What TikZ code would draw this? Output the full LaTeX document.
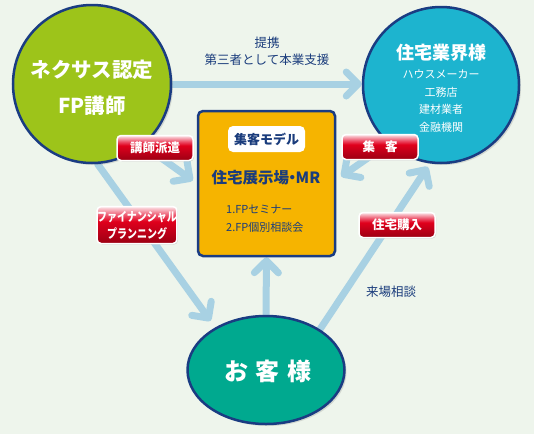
\documentclass[tikz,border=0pt]{standalone}
\usepackage{fontspec}
\usepackage{graphicx}
\setmainfont{Noto Sans CJK JP}
\usetikzlibrary{arrows.meta,shapes.geometric,shadows}
\definecolor{bgc}{HTML}{EEF5EC}
\definecolor{navy}{HTML}{1A3C82}
\definecolor{txtnavy}{HTML}{1A3C7C}
\definecolor{greenc}{HTML}{9DC41A}
\definecolor{bluec}{HTML}{1DB4CF}
\definecolor{orangec}{HTML}{F6B400}
\definecolor{tealc}{HTML}{00A98F}
\definecolor{arrowc}{HTML}{A8D1E3}
\definecolor{redtop}{HTML}{FCE6EA}
\definecolor{redpink}{HTML}{EC5068}
\definecolor{redmid}{HTML}{E0001C}
\definecolor{reddark}{HTML}{B80018}
\definecolor{redbot}{HTML}{9C0012}
\pgfdeclareverticalshading{redgloss}{100bp}{color(0bp)=(redbot); color(25bp)=(redbot); color(38bp)=(reddark); color(55bp)=(redmid); color(63bp)=(redpink); color(75bp)=(redtop); color(100bp)=(redtop)}
\pgfdeclarelayer{bglayer}
\pgfdeclarelayer{connlayer}
\pgfsetlayers{bglayer,connlayer,main}
\newcommand{\fsz}[1]{\fontsize{#1}{#1}\selectfont}
\begin{document}
\begin{tikzpicture}[x=1pt,y=-1pt,
  conn/.style={draw=arrowc, line width=7pt, line cap=round,
    -{Straight Barb[length=12pt,width=24pt,round]}},
  bigshape/.style={draw=navy, line width=2.5pt,
    drop shadow={opacity=0.25, shadow xshift=2pt, shadow yshift=-2pt}},
  redlbl/.style={rounded corners=4pt, draw=white, line width=1.5pt,
    shading=redgloss, shading angle=0,
    text=white, font=\bfseries\fsz{12.5}, minimum width=76pt, minimum height=25pt,
    inner sep=0pt, align=center,
    drop shadow={opacity=0.3, shadow xshift=1pt, shadow yshift=-1pt}},
  wtxt/.style={text=white, inner sep=0pt},
  ntxt/.style={text=txtnavy, inner sep=0pt}]
\begin{pgfonlayer}{bglayer}
\fill[bgc] (0,0) rectangle (534,434);
\end{pgfonlayer}
\useasboundingbox (0,0) rectangle (534,434);

% main shapes
\node[bigshape, circle, fill=greenc, minimum size=158pt] (green) at (92,84) {};
\node[bigshape, circle, fill=bluec, minimum size=156pt] (blue) at (441,85) {};
\node[draw=navy, line width=2.5pt, fill=orangec, rounded corners=5pt,
  minimum width=137pt, minimum height=145pt] (box) at (266.5,183.5) {};
\node[bigshape, ellipse, fill=tealc, minimum width=157pt, minimum height=108pt] (cust) at (266,370) {};

% connectors
\begin{pgfonlayer}{connlayer}
\draw[conn] (green.east) -- (green.east -| blue.west);
\draw[conn] (green.-50) -- ([xshift=-4pt,yshift=3pt]box.west);
\draw[conn] (blue.-132) -- ([xshift=5pt,yshift=7pt]box.east);
\draw[conn, shorten >=8pt] (green.-86) -- (cust.140);
\draw[conn] (cust.north) -- (box.south);
\draw[conn, shorten >=4pt] (cust.37) -- (blue.-98);
\end{pgfonlayer}

% texts in shapes
\node[wtxt, font=\bfseries\fsz{20.5}] (g1) at (92,70) {ネクサス認定};
\node[wtxt, font=\bfseries\fsz{20.5}] (g2) at (92,106) {FP講師};

\node[wtxt, font=\bfseries\fsz{18}] (b0) at (441,53) {住宅業界様};
\node[wtxt, font=\fsz{11}] (b1) at (441,74) {ハウスメーカー};
\node[wtxt, font=\fsz{11}] (b2) at (441,92) {工務店};
\node[wtxt, font=\fsz{11}] (b3) at (441,109) {建材業者};
\node[wtxt, font=\fsz{11}] (b4) at (441,127) {金融機関};

\node[fill=white, rounded corners=5pt, minimum width=77pt, minimum height=26pt,
  inner sep=0pt, text=txtnavy, font=\bfseries\fsz{13}] (model) at (266.5,139) {集客モデル};
\node[ntxt, font=\bfseries\fsz{15.5}] (mr) at (266,178) {住宅展示場\hspace{-4.5pt}・\hspace{-4.5pt}MR};
\node[ntxt, anchor=west, font=\fsz{11}] (l1) at (226,209) {1.FPセミナー};
\node[ntxt, anchor=west, font=\fsz{11}] (l2) at (226,227) {2.FP個別相談会};

\node[wtxt, font=\bfseries\fsz{24}] (c) at (268,371) {お\hspace{8pt}客\hspace{8pt}様};

% free labels
\node[ntxt, font=\fsz{12.5}, align=center] (tk1) at (267,43) {提携};
\node[ntxt, font=\fsz{12.5}, align=center] (tk2) at (267,60) {第三者として本業支援};
\node[ntxt, font=\fsz{12.5}] (rs) at (391,292) {来場相談};

% red labels
\node[redlbl] (r1) at (155,148) {講師派遣};
\node[redlbl] (r2) at (380,147) {集\hspace{0.8em}客};
\node[redlbl, minimum height=37pt, font=\bfseries\fontsize{12.5}{17}\selectfont] (r3) at (137,225)
  {\scalebox{0.8}[1]{ファイナンシャル}\\\scalebox{0.8}[1]{プランニング}};
\node[redlbl] (r4) at (397,225) {住宅購入};
\end{tikzpicture}
\end{document}
